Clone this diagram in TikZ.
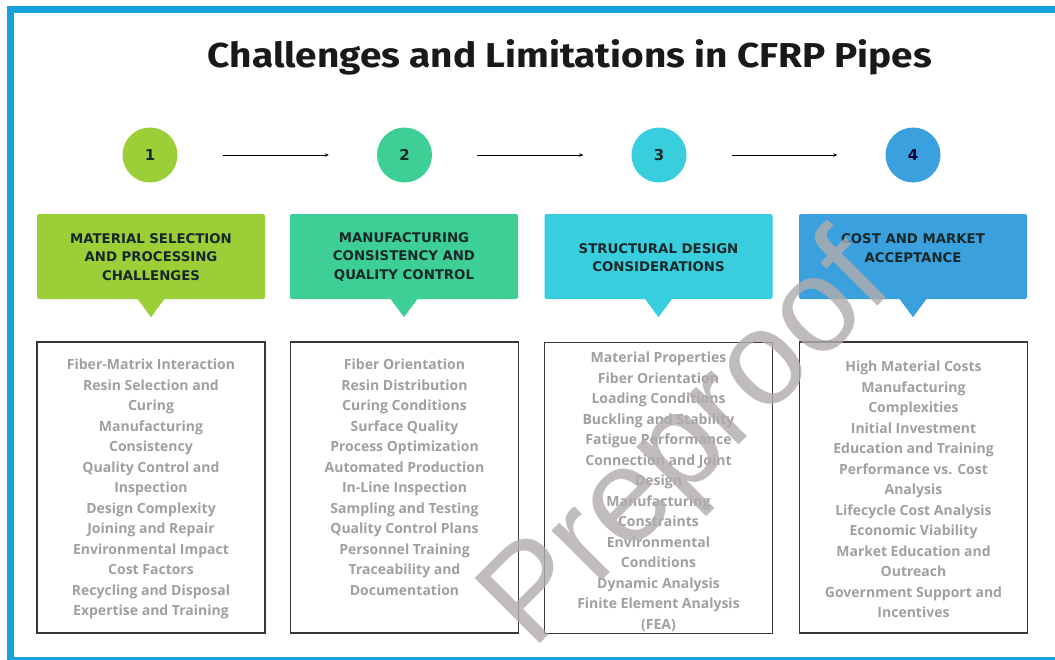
\documentclass[tikz,border=0pt]{standalone}
\usepackage{fontspec}
\setmainfont{Open Sans}
\newfontfamily\titlefont{Fira Sans}
\newfontfamily\headfont{DejaVu Sans}
\newfontfamily\markfont{Liberation Sans}
\usetikzlibrary{arrows.meta, positioning}

\definecolor{frameblue}{RGB}{22,160,220}
\definecolor{stepA}{RGB}{155,206,55}
\definecolor{stepB}{RGB}{62,207,150}
\definecolor{stepC}{RGB}{56,206,222}
\definecolor{stepD}{RGB}{58,160,222}
\definecolor{headink}{RGB}{22,40,40}
\definecolor{itemgray}{RGB}{160,160,160}
\definecolor{boxline}{RGB}{55,55,55}
\definecolor{markgray}{RGB}{178,172,172}

\tikzset{
  stepdot/.style={circle, minimum size=55pt, inner sep=0pt, font=\headfont\bfseries\fontsize{15}{15}\selectfont, text=headink},
  headbox/.style={rectangle, rounded corners=2pt, minimum width=228pt, minimum height=85pt, inner sep=0pt},
  headtext/.style={font=\headfont\bfseries\fontsize{13.3}{18.5}\selectfont, text=headink, align=center, inner sep=0pt},
  listbox/.style={draw=boxline, line width=1.2pt, minimum width=228pt, minimum height=291pt, inner sep=0pt},
  listtext/.style={font=\bfseries\fontsize{14}{20.5}\selectfont, text=itemgray, align=center, anchor=north, inner sep=0pt},
  flow/.style={-{Stealth[length=4pt,width=3.5pt]}, line width=0.8pt, shorten <=45pt, shorten >=48pt},
}

\begin{document}
\begin{tikzpicture}[x=1pt, y=-1pt]
    \clip (0,0) rectangle (1055,659);
    \fill[white] (0,0) rectangle (1055,659);

    % outer frame, open on the right
    \draw[frameblue, line width=7pt] (10.5,9) rectangle (1080,660.5);

    \node[anchor=base, text=black!90] (title) at (570,67)
        {\titlefont\bfseries\resizebox{724pt}{28pt}{Challenges and Limitations in CFRP Pipes}};

    % numbered steps
    \node[stepdot, fill=stepA] (n1) at (150,155) {1};
    \node[stepdot, fill=stepB] (n2) at (404.5,155) {2};
    \node[stepdot, fill=stepC] (n3) at (659,155) {3};
    \node[stepdot, fill=stepD, text=black!80!blue] (n4) at (913,155) {4};

    \draw[flow] (n1) -- (n2);
    \draw[flow] (n2) -- (n3);
    \draw[flow] (n3) -- (n4);

    % coloured headers with pointers
    \node[headbox, fill=stepA] (h1) at (151,256.5) {};
    \node[headbox, fill=stepB] (h2) at (404,256.5) {};
    \node[headbox, fill=stepC] (h3) at (658.5,256.5) {};
    \node[headbox, fill=stepD] (h4) at (913,256.5) {};

    \fill[stepA] (h1.south) ++(-14,-1) -- ++(28,0) -- ++(-14,19) -- cycle;
    \fill[stepB] (h2.south) ++(-14,-1) -- ++(28,0) -- ++(-14,19) -- cycle;
    \fill[stepC] (h3.south) ++(-14,-1) -- ++(28,0) -- ++(-14,19) -- cycle;
    \fill[stepD] (h4.south) ++(-14,-1) -- ++(28,0) -- ++(-14,19) -- cycle;

    \node[headtext] (t1) at (151,257) {MATERIAL SELECTION\\AND PROCESSING\\CHALLENGES};
    \node[headtext] (t2) at (404,257) {MANUFACTURING\\CONSISTENCY AND\\QUALITY CONTROL};
    \node[headtext] (t3) at (658.5,257.5) {STRUCTURAL DESIGN\\CONSIDERATIONS};
    \node[headtext] (t4) at (913,248) {COST AND MARKET\\ACCEPTANCE};

    % item lists
    \node[listbox] (b1) at (151,487.5) {};
    \node[listbox] (b2) at (404.5,487.5) {};
    \node[listbox] (b3) at (658.5,488) {};
    \node[listbox] (b4) at (913.5,487.5) {};

    \node[listtext] (l1) at (151,359) {Fiber-Matrix Interaction\\Resin Selection and\\Curing\\Manufacturing\\Consistency\\Quality Control and\\Inspection\\Design Complexity\\Joining and Repair\\Environmental Impact\\Cost Factors\\Recycling and Disposal\\Expertise and Training};
    \node[listtext] (l2) at (404.5,359) {Fiber Orientation\\Resin Distribution\\Curing Conditions\\Surface Quality\\Process Optimization\\Automated Production\\In-Line Inspection\\Sampling and Testing\\Quality Control Plans\\Personnel Training\\Traceability and\\Documentation};
    \node[listtext] (l3) at (658.5,352) {Material Properties\\Fiber Orientation\\Loading Conditions\\Buckling and Stability\\Fatigue Performance\\Connection and Joint\\Design\\Manufacturing\\Constraints\\Environmental\\Conditions\\Dynamic Analysis\\Finite Element Analysis\\(FEA)};
    \node[listtext] (l4) at (913.5,361) {High Material Costs\\Manufacturing\\Complexities\\Initial Investment\\Education and Training\\Performance vs. Cost\\Analysis\\Lifecycle Cost Analysis\\Economic Viability\\Market Education and\\Outreach\\Government Support and\\Incentives};

    % watermark across the third column
    \node[rotate=45, text=markgray, opacity=0.8, font=\markfont\fontsize{134}{134}\selectfont] (mark) at (690,445) {Preproof};
\end{tikzpicture}
\end{document}
